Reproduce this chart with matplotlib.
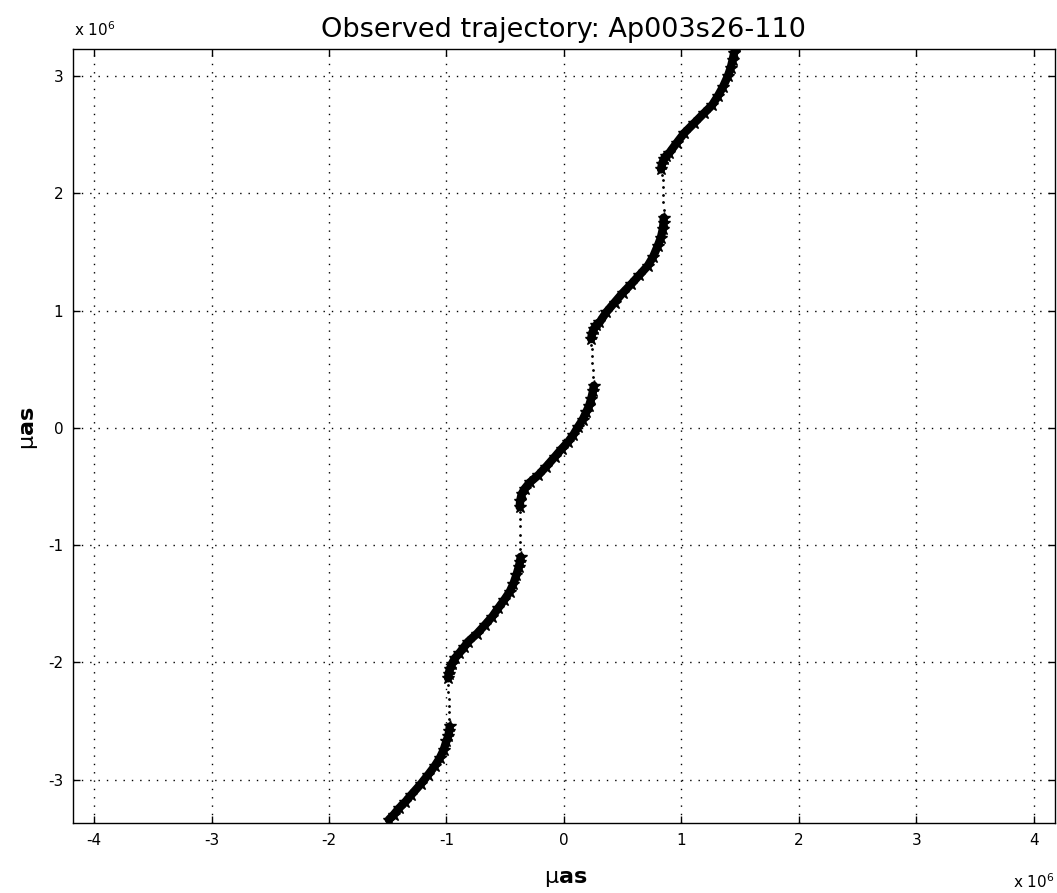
import matplotlib
matplotlib.use("Agg")
import matplotlib.pyplot as plt

plt.rcParams['font.family'] = ['DejaVu Sans']
plt.rcParams['mathtext.fontset'] = 'custom'
plt.rcParams['mathtext.rm'] = 'DejaVu Sans'
plt.rcParams['mathtext.bf'] = 'DejaVu Sans:bold'

# trajectory, in units of 1e6 micro-arcseconds
# dense stretches (slow motion)
seg1_x = [-1.491, -1.45, -1.40, -1.35, -1.299, -1.22, -1.156, -1.10,
          -1.057, -1.025, -1.001, -0.985, -0.976, -0.972]
seg1_y = [-3.342, -3.30, -3.24, -3.19, -3.129, -3.04, -2.959, -2.885,
          -2.817, -2.75, -2.675, -2.63, -2.585, -2.547]
seg2_x = [-0.986, -0.982, -0.972, -0.955, -0.929, -0.89, -0.85, -0.816,
          -0.74, -0.674, -0.61, -0.561, -0.51, -0.462, -0.43, -0.405,
          -0.385, -0.374, -0.368]
seg2_y = [-2.136, -2.10, -2.06, -2.015, -1.966, -1.92, -1.87, -1.824,
          -1.755, -1.683, -1.61, -1.540, -1.47, -1.399, -1.33, -1.257,
          -1.19, -1.14, -1.100]
seg3_x = [-0.377, -0.372, -0.360, -0.334, -0.29, -0.221, -0.15, -0.079,
          -0.02, 0.034, 0.08, 0.119, 0.16, 0.190, 0.215, 0.232, 0.247, 0.255]
seg3_y = [-0.675, -0.62, -0.565, -0.519, -0.465, -0.406, -0.33, -0.249,
          -0.18, -0.122, -0.06, 0.006, 0.07, 0.134, 0.19, 0.247, 0.31, 0.360]
seg4_x = [0.232, 0.238, 0.255, 0.275, 0.303, 0.36, 0.431, 0.50, 0.573,
          0.64, 0.714, 0.76, 0.799, 0.825, 0.842, 0.848, 0.850]
seg4_y = [0.757, 0.80, 0.845, 0.875, 0.899, 0.985, 1.069, 1.15, 1.226,
          1.30, 1.382, 1.46, 1.552, 1.62, 1.694, 1.745, 1.793]
seg5_x = [0.827, 0.835, 0.850, 0.870, 0.898, 0.96, 1.026, 1.11, 1.196,
          1.26, 1.310, 1.355, 1.395, 1.42, 1.437, 1.450, 1.462]
seg5_y = [2.204, 2.25, 2.29, 2.32, 2.346, 2.43, 2.516, 2.60, 2.687,
          2.75, 2.828, 2.91, 2.998, 3.07, 3.140, 3.20, 3.260]

# sparse stretches (fast motion between dense parts)
gap_x = [-0.975, -0.978, -0.980, -0.982, -0.983, -0.985,
         -0.370, -0.371, -0.373, -0.374, -0.375, -0.376,
         0.250, 0.246, 0.242, 0.239, 0.236, 0.234,
         0.848, 0.846, 0.844, 0.842, 0.840, 0.838]
gap_y = [-2.48, -2.42, -2.37, -2.31, -2.25, -2.19,
         -1.03, -0.97, -0.91, -0.84, -0.78, -0.72,
         0.43, 0.49, 0.55, 0.61, 0.67, 0.71,
         1.86, 1.93, 1.99, 2.05, 2.11, 2.16]

xticks = [-4, -3, -2, -1, 0, 1, 2, 3, 4]
yticks = [-3, -2, -1, 0, 1, 2, 3]
scale = 1e6

fig = plt.figure(figsize=(10.57, 8.93), dpi=100)
ax = fig.add_axes([0.069, 0.0784, 0.929, 0.8666])

for sx, sy in [(seg1_x, seg1_y), (seg2_x, seg2_y), (seg3_x, seg3_y),
               (seg4_x, seg4_y), (seg5_x, seg5_y)]:
    xs = [v * scale for v in sx]
    ys = [v * scale for v in sy]
    ax.plot(xs, ys, color='black', lw=6, solid_capstyle='round',
            solid_joinstyle='round', zorder=3)
    ax.plot(xs, ys, ls='none', marker='*', ms=9, color='black', zorder=3)

ax.plot([v * scale for v in gap_x], [v * scale for v in gap_y],
        ls='none', marker='.', ms=2, color='black', zorder=3)

ax.set_xlim(-4.18 * scale, 4.18 * scale)
ax.set_ylim(-3.37 * scale, 3.23 * scale)
ax.set_xticks([t * scale for t in xticks])
ax.set_yticks([t * scale for t in yticks])
ax.set_xticklabels([str(t) for t in xticks])
ax.set_yticklabels([str(t) for t in yticks])
ax.tick_params(direction='in', length=5, width=1, top=True, right=True,
               labelsize=11, pad=7, colors='black')
ax.grid(True, color='black', linestyle=(0, (1, 5)), linewidth=1.0)
for sp in ax.spines.values():
    sp.set_linewidth(1.0)

ax.set_title('Observed trajectory: Ap003s26-110', fontsize=19.5, pad=9)
fig.text(0.535, 0.016, r'µ$\mathbf{as}$', fontsize=16, ha='center', va='center')
fig.text(0.028, 0.52, r'µ$\mathbf{as}$', fontsize=16, ha='center', va='center',
         rotation=90)
fig.text(0.070, 0.967, r'x 10$^{6}$', fontsize=11, ha='left', va='center')
fig.text(0.998, 0.013, r'x 10$^{6}$', fontsize=11, ha='right', va='center')

fig.savefig('out.png', dpi=100)
